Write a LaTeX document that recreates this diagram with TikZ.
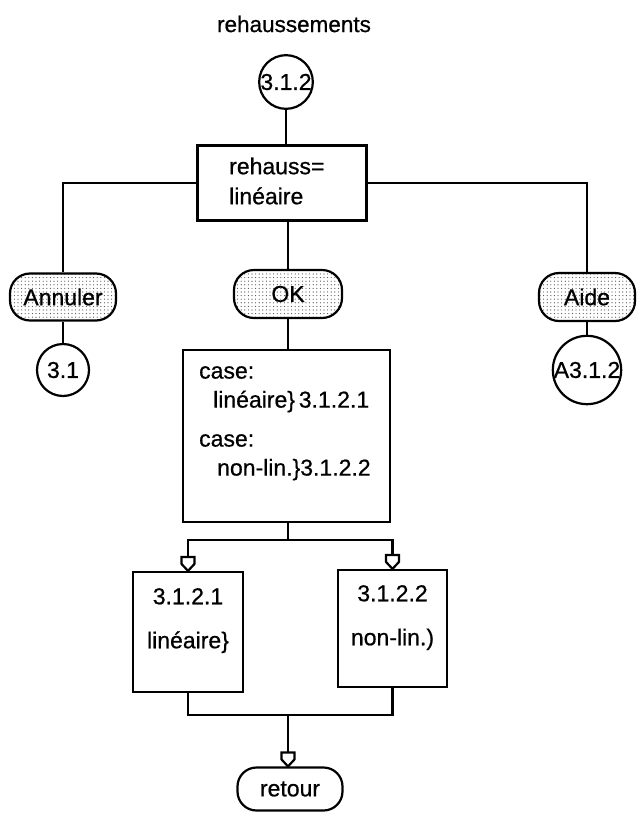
\documentclass[tikz,border=0pt]{standalone}
\usepackage{fontspec}
\setmainfont{Liberation Sans}[FakeBold=0.7]
\usetikzlibrary{patterns.meta}

% Open pentagon "nib" arrow tip used on the flow lines
\pgfdeclarearrow{
  name = Nib,
  setup code = {
    \pgfarrowssettipend{0pt}
    \pgfarrowssetlineend{-14pt}
    \pgfarrowssetbackend{-14pt}
    \pgfarrowsupperhullpoint{-14pt}{6.5pt}
    \pgfarrowsupperhullpoint{-7pt}{6.5pt}
    \pgfarrowsupperhullpoint{0pt}{0pt}
  },
  drawing code = {
    \pgfsetdash{}{0pt}
    \pgfsetmiterjoin
    \pgfpathmoveto{\pgfpoint{0pt}{0pt}}
    \pgfpathlineto{\pgfpoint{-7pt}{6.5pt}}
    \pgfpathlineto{\pgfpoint{-14pt}{6.5pt}}
    \pgfpathlineto{\pgfpoint{-14pt}{-6.5pt}}
    \pgfpathlineto{\pgfpoint{-7pt}{-6.5pt}}
    \pgfpathclose
    \pgfsetfillcolor{white}
    \pgfusepathqfillstroke
  },
}

\tikzset{
  txt/.style={font=\fontsize{23}{27}\selectfont, inner sep=0pt},
  flow/.style={line width=2.2pt},
  arrowflow/.style={flow, -{Nib}},
  proc/.style={draw, line width=2.2pt, rectangle, inner sep=0pt},
  term/.style={circle, draw, line width=2.2pt, inner sep=0pt,
    font=\fontsize{23}{27}\selectfont},
  button/.style={draw, line width=2.2pt, rounded corners=20pt, inner sep=0pt,
    font=\fontsize{23}{27}\selectfont,
    pattern={Dots[distance=3.6pt, radius=0.6pt]}, pattern color=black!70},
  plainpill/.style={draw, line width=2.2pt, rounded corners=19pt, inner sep=0pt,
    font=\fontsize{23}{27}\selectfont, fill=white},
}

\begin{document}
\begin{tikzpicture}[x=1pt, y=-1pt]
  \useasboundingbox (0,0) rectangle (637,814);

  % heading
  \node[txt, font=\fontsize{22.5}{27}\selectfont] (title) at (294,24) {rehaussements};

  % entry point and first choice
  \node[term, minimum size=50pt] (c312) at (286,82) {3.1.2};
  \node[proc, minimum width=169pt, minimum height=75pt] (choice) at (282,183) {};
  \node[txt, align=left, anchor=west] (choicetxt) at (229,181)
    {rehauss=\\[3pt]linéaire};

  % the three buttons
  \node[button, minimum width=106pt, minimum height=47pt] (annuler) at (63,297) {Annuler};
  \node[button, minimum width=108pt, minimum height=48pt] (ok) at (288,294) {OK};
  \node[button, minimum width=96pt, minimum height=48pt] (aide) at (587,297) {Aide};

  % exits of the side buttons
  \node[term, minimum size=52pt] (c31) at (63,370) {3.1};
  \node[term, minimum size=64pt] (a312) at (587,370) {A3.1.2};

  % case dispatcher
  \node[proc, minimum width=207pt, minimum height=172pt] (cases) at (286.5,436) {};
  \node[txt, align=left, anchor=north west] (casestxt) at (199,366)
    {case:\\[2pt]
     \hspace*{14pt}linéaire\}\,3.1.2.1\\[12pt]
     case:\\[2pt]
     \hspace*{18pt}non-lin.\}3.1.2.2};

  % the two branches
  \node[proc, minimum width=110pt, minimum height=120pt] (lin) at (188,632) {};
  \node[txt, align=center, anchor=north] (lintxt) at (188,588)
    {3.1.2.1\\[17pt]linéaire\}};
  \node[proc, minimum width=109pt, minimum height=117pt] (nonlin) at (392.5,628.5) {};
  \node[txt, align=center, anchor=north] (nonlintxt) at (392.5,585)
    {3.1.2.2\\[17pt]non-lin.)};

  % return
  \node[plainpill, minimum width=105pt, minimum height=43pt] (retour) at (290,789) {retour};

  % junction points
  \coordinate (split) at (288,540);
  \coordinate (merge) at (288,715);

  % connectors
  \draw[flow] (c312) -- (c312 |- choice.north);
  \draw[flow] (choice.west) -| (annuler.north);
  \draw[flow] (choice.east) -| (aide.north);
  \draw[flow] (choice.south -| ok.north) -- (ok.north);
  \draw[flow] (annuler.south) -- (c31.north);
  \draw[flow] (aide.south) -- (a312.north);
  \draw[flow] (ok.south) -- (ok.south |- cases.north);

  \draw[flow] (cases.south -| split) -- (split);
  \draw[arrowflow] (split) -| (lin.north);
  \draw[arrowflow] (split) -| (nonlin.north);

  \draw[flow] (lin.south) |- (merge);
  \draw[flow] (nonlin.south) |- (merge);
  \draw[arrowflow] (merge) -- (merge |- retour.north);
\end{tikzpicture}
\end{document}
